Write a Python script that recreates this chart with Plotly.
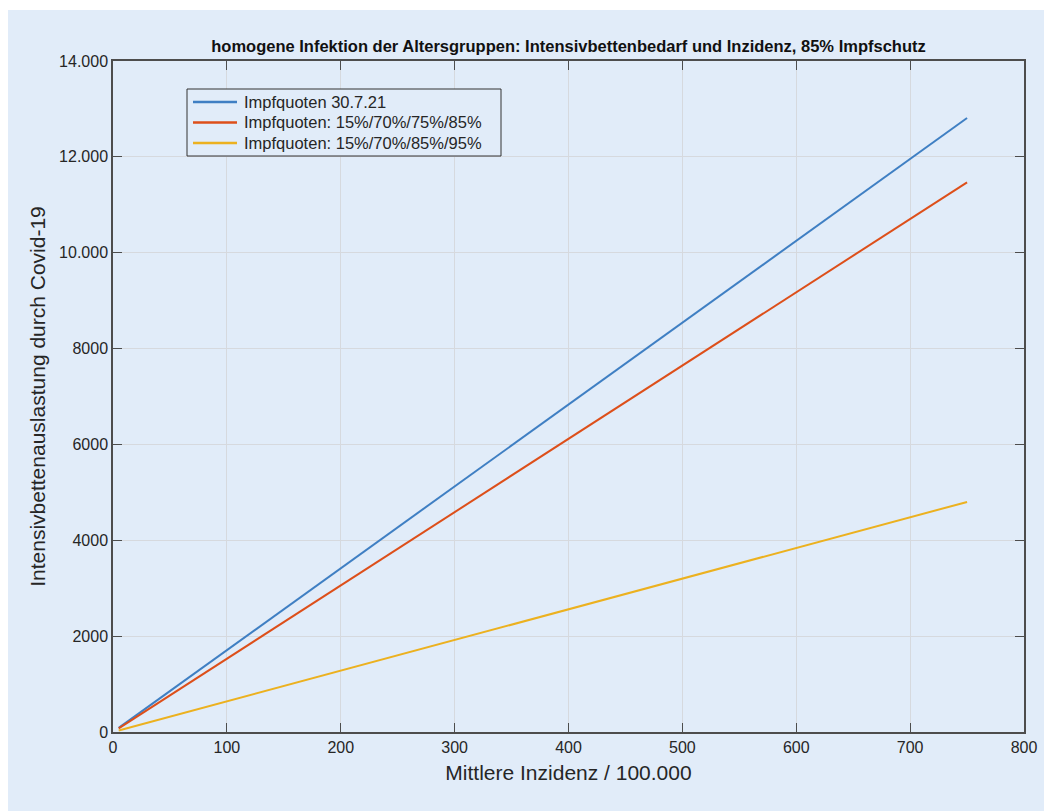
import plotly.graph_objects as go

# Data
inzidenz = [5, 300, 750]
blau = [85, 5125, 12810]
rot = [76, 4590, 11468]
gelb = [32, 1920, 4800]

namen = ["Impfquoten 30.7.21", "Impfquoten: 15%/70%/75%/85%", "Impfquoten: 15%/70%/85%/95%"]
farben = ["#3f7fc3", "#dd4f1a", "#ecb11f"]

x_ticks = [0, 100, 200, 300, 400, 500, 600, 700, 800]
y_ticks = [0, 2000, 4000, 6000, 8000, 10000, 12000, 14000]
y_ticktext = ["0", "2000", "4000", "6000", "8000", "10.000", "12.000", "14.000"]

bg = "#e1ecf9"
font_fam = "Liberation Sans, Arial, Helvetica, sans-serif"

L, T, R, B = 105, 53, 36, 87
W, H = 1052, 811
pw, ph = W - L - R, H - T - B


def px(fx):
    return (fx - L) / pw


def py(fy):
    return (T + ph - fy) / ph


fig = go.Figure()
for ys, n, c in zip([blau, rot, gelb], namen, farben):
    fig.add_trace(go.Scatter(x=inzidenz, y=ys, mode="lines", name=n,
                             line=dict(color=c, width=2), showlegend=False))

# Legend box (MATLAB style), drawn in paper coordinates
shapes = [dict(type="rect", xref="paper", yref="paper",
               x0=-L / pw, x1=1.2, y0=-0.2, y1=py(2),
               fillcolor=bg, line=dict(width=0), layer="below"),
          dict(type="rect", xref="paper", yref="paper",
               x0=px(179), x1=px(493), y0=py(148), y1=py(81),
               fillcolor=bg, line=dict(color="#333333", width=1), layer="above")]
annotations = []
rows = [94, 114.5, 135]
for fy, n, c in zip(rows, namen, farben):
    shapes.append(dict(type="line", xref="paper", yref="paper",
                       x0=px(185), x1=px(229), y0=py(fy), y1=py(fy),
                       line=dict(color=c, width=2.5), layer="above"))
    annotations.append(dict(text=n, xref="paper", yref="paper", x=px(234), y=py(fy),
                            xanchor="left", yanchor="middle", showarrow=False,
                            font=dict(size=16.5, color="#262626")))

fig.update_layout(
    width=W, height=H,
    margin=dict(l=L, r=R, t=T, b=B),
    paper_bgcolor="white",
    plot_bgcolor=bg,
    font=dict(family=font_fam, color="#262626", size=16),
    title=dict(text="<b>homogene Infektion der Altersgruppen: Intensivbettenbedarf und Inzidenz, 85% Impfschutz</b>",
               x=(L + pw / 2) / W, xanchor="center", y=1 - 38 / H, yanchor="middle",
               font=dict(size=16.5, color="#111111")),
    showlegend=False,
    shapes=shapes,
    annotations=annotations,
)

fig.update_xaxes(range=[0, 800], tickvals=x_ticks, ticks="inside", ticklen=9,
                 tickcolor="#4d4d4d", showline=True, linecolor="#4d4d4d", linewidth=1.5,
                 mirror="ticks", showgrid=True, gridcolor="#d6d9de", gridwidth=1,
                 zeroline=False, tickfont=dict(size=16),
                 title=dict(text="Mittlere Inzidenz / 100.000", font=dict(size=21), standoff=10))
fig.update_yaxes(range=[0, 14000], tickvals=y_ticks, ticktext=y_ticktext, ticks="inside", ticklen=9,
                 tickcolor="#4d4d4d", showline=True, linecolor="#4d4d4d", linewidth=1.5,
                 mirror="ticks", showgrid=True, gridcolor="#d6d9de", gridwidth=1,
                 zeroline=False, tickfont=dict(size=16),
                 title=dict(text="Intensivbettenauslastung durch Covid-19", font=dict(size=21), standoff=8))

fig.write_html("out.html")
